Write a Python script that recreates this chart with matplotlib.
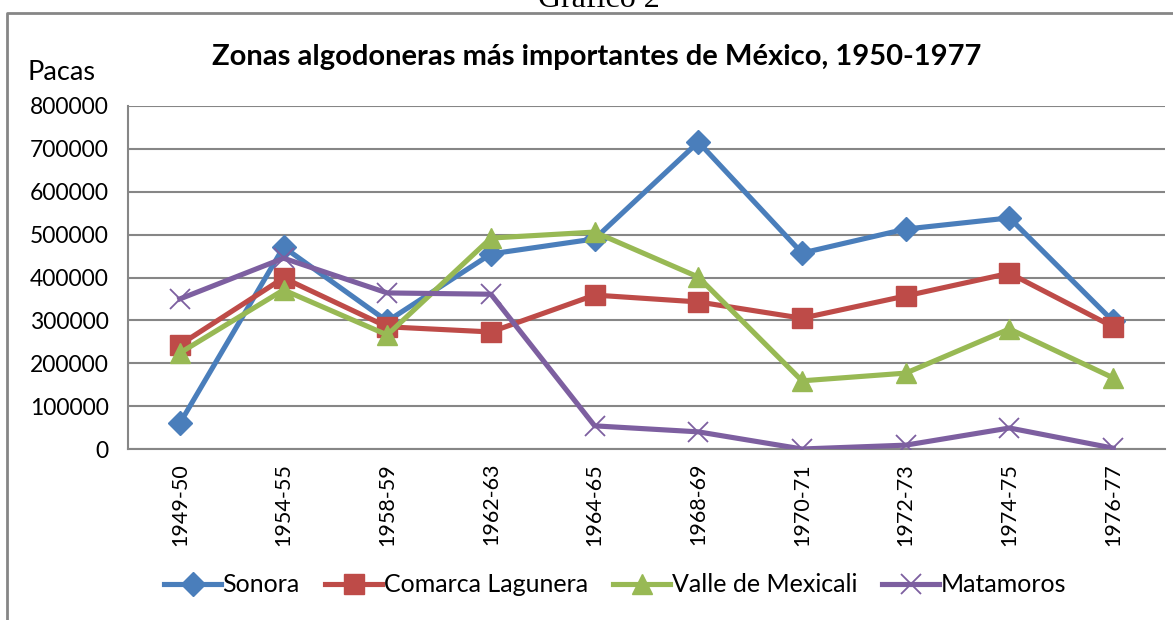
import matplotlib
matplotlib.use("Agg")

import matplotlib.pyplot as plt
from matplotlib.lines import Line2D

# datos
periodos = ["1949-50", "1954-55", "1958-59", "1962-63", "1964-65",
            "1968-69", "1970-71", "1972-73", "1974-75", "1976-77"]
sonora = [60000, 471000, 298000, 455000, 490000, 716000, 457000, 513000, 539000, 298000]
comarca = [243000, 399000, 285000, 273000, 359000, 343000, 305000, 357000, 410000, 285000]
mexicali = [224000, 371000, 266000, 492000, 506000, 401000, 159000, 177000, 280000, 166000]
matamoros = [350000, 445000, 364000, 361000, 54000, 40000, 0, 9000, 49000, 2000]

FONT = ["Lato", "DejaVu Sans"]
W, H = 1173, 620

fig = plt.figure(figsize=(W / 100, H / 100), dpi=100)
ax = fig.add_axes([128 / W, 1 - 449 / H, (1165 - 128) / W, (449 - 106) / H])

x = range(len(periodos))
ax.plot(x, sonora, color="#4A7EBB", lw=3.7, marker="D", ms=12, label="Sonora", zorder=3)
ax.plot(x, comarca, color="#BE4B48", lw=3.7, marker="s", ms=14, label="Comarca Lagunera", zorder=3)
ax.plot(x, mexicali, color="#98B954", lw=3.7, marker="^", ms=15, label="Valle de Mexicali", zorder=3)
ax.plot(x, matamoros, color="#7D5FA0", lw=3.7, marker="x", ms=15, mew=1.3, label="Matamoros", zorder=3)

ax.set_xlim(-0.5, len(periodos) - 0.5)
ax.set_ylim(0, 800000)
ax.set_yticks(range(0, 800001, 100000))
ax.set_yticklabels([str(v) for v in range(0, 800001, 100000)], family=FONT, fontsize=16.5)
ax.set_xticks(list(x))
ax.set_xticklabels(periodos, rotation=90, family=FONT, fontsize=15.5)
ax.tick_params(axis="y", length=0, pad=14)
ax.tick_params(axis="x", length=0, pad=10)
ax.grid(axis="y", color="#868686", lw=1.5)
ax.set_axisbelow(True)
for s in ["top", "right"]:
    ax.spines[s].set_visible(False)
ax.spines["left"].set_color("#868686")
ax.spines["bottom"].set_color("#868686")
ax.spines["left"].set_linewidth(1.5)
ax.spines["bottom"].set_linewidth(1.5)

fig.text(597 / W, 1 - 57 / H, "Zonas algodoneras más importantes de México, 1950-1977",
         ha="center", va="center", family=FONT, fontsize=21, fontweight="bold")
fig.text(28 / W, 1 - 72 / H, "Pacas", ha="left", va="center", family=FONT, fontsize=19.5)
fig.text(599 / W, 1 - 7 / H, "Gráfico 2", ha="center", va="baseline",
         family=["Liberation Serif"], fontsize=23)

# marco del grafico
fig.add_artist(Line2D([7 / W, 7 / W, 1.0], [0.0, 1 - 13 / H, 1 - 13 / H],
                      transform=fig.transFigure, color="#868686", lw=2))

leg = fig.legend(loc="center", bbox_to_anchor=(615 / W, 1 - 585 / H), ncol=4,
                 frameon=False, prop={"family": FONT, "size": 18},
                 handlelength=2.3, handletextpad=0.05, columnspacing=1.0)

fig.savefig("out.png", dpi=100)
